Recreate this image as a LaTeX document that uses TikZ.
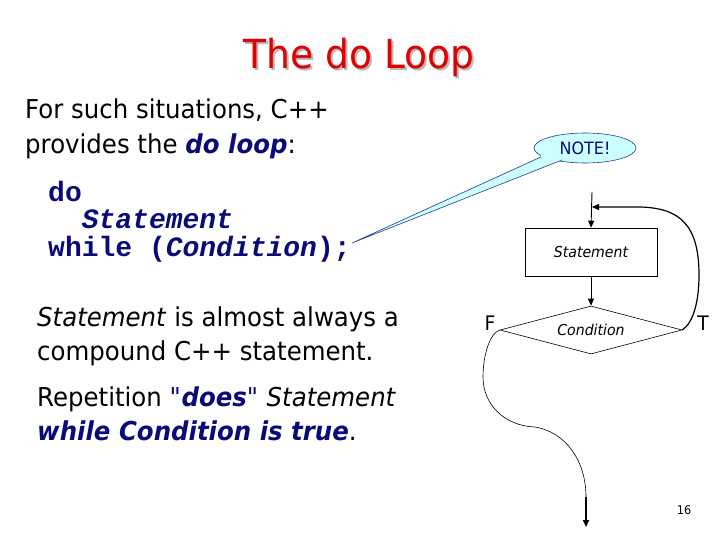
\documentclass[tikz,border=0pt]{standalone}
\usepackage{fontspec}
\setmainfont{DejaVu Sans}[FakeStretch=0.94,ItalicFont={DejaVu Sans Oblique},BoldItalicFont={DejaVu Sans Bold Oblique},BoldFont={DejaVu Sans Bold}]
\newfontfamily\codefont{Liberation Mono}
\usetikzlibrary{arrows.meta,shapes.geometric}
\definecolor{navyc}{RGB}{10,10,120}
\definecolor{titlered}{RGB}{225,0,0}
\definecolor{calloutfill}{RGB}{204,255,255}
\definecolor{calloutline}{RGB}{40,60,140}
\tikzset{
  txt/.style={anchor=base west,inner sep=0pt,font=\fontsize{26}{30}\selectfont},
  code/.style={anchor=base west,inner sep=0pt,text=navyc,font=\codefont\bfseries\fontsize{28}{30}\selectfont},
  flowbox/.style={draw,line width=0.6pt,minimum width=132pt,minimum height=48pt,inner sep=0pt,font=\itshape\fontsize{15}{18}\selectfont},
  flowdia/.style={draw,line width=0.6pt,diamond,aspect=3.8,minimum width=182pt,minimum height=48pt,inner sep=0pt,font=\itshape\fontsize{15}{18}\selectfont},
  flow/.style={line width=0.9pt,-{Triangle[length=7pt,width=6pt]}},
  thin/.style={line width=0.6pt},
}
\begin{document}
\begin{tikzpicture}[x=1pt,y=-1pt]
\useasboundingbox (0,0) rectangle (720,540);
% title with shadow
\node[anchor=base,inner sep=0pt,font=\fontsize{40}{44}\selectfont] (title) at (359,69)
  {\makebox[0pt][l]{\hspace{2pt}\raisebox{-2pt}{\textcolor{black!28}{The do Loop}}}\textcolor{titlered}{The do Loop}};
% text
\node[txt] (l1) at (25,119) {For such situations, C++};
\node[txt] (l2) at (25,154) {provides the \textcolor{navyc}{\textbf{\textit{do loop}}}:};
\node[code] (c1) at (48,202) {do};
\node[code] (c2) at (48,229) {\ \ \textit{Statement}};
\node[code] (c3) at (48,256) {while (\textit{Condition});};
\node[txt] (l3) at (37,326) {\textit{Statement} is almost always a};
\node[txt] (l4) at (37,360) {compound C++ statement.};
\node[txt] (l5) at (37,406) {Repetition \textcolor{navyc}{\textit{\textquotedbl}\textbf{\textit{does}}\textit{\textquotedbl}} \textit{Statement}};
\node[txt] (l6) at (37,440) {\textcolor{navyc}{\textbf{\textit{while Condition is true}}}.};
% callout
\coordinate (tip) at (352,243);
\node[ellipse,draw=calloutline,fill=calloutfill,line width=0.6pt,minimum width=102pt,minimum height=30pt,inner sep=0pt,text=navyc,font=\fontsize{17}{19}\selectfont] (note) at (585,148) {NOTE!};
\fill[calloutfill] (541,156) -- (tip) -- (562,160) -- (562,154) -- (543,151) -- cycle;
\draw[calloutline,line width=0.6pt] (541,157) -- (tip) -- (562,160);
% flowchart
\coordinate (start) at (592,192);
\coordinate (join) at (592,207);
\node[flowbox] (stmt) at (591,252) {Statement};
\node[flowdia] (cond) at (591,330) {Condition};
\node[anchor=base,inner sep=0pt,font=\fontsize{20}{22}\selectfont] (F) at (490,330) {F};
\node[anchor=base,inner sep=0pt,font=\fontsize{20}{22}\selectfont] (T) at (703,330) {T};
\draw[flow] (start) -- (stmt.north);
\draw[flow] (stmt.south) -- (cond.north);
\draw[line width=1.2pt,-{Triangle[length=7pt,width=6pt]}] (cond.east) .. controls (694,322) and (699,300) .. (699,275) .. controls (699,225) and (680,208) .. (640,207) -- (join);
\coordinate (exit) at (586,527);
\coordinate (bend) at (586,497);
\draw[thin] (cond.west) .. controls (490,333) and (483,355) .. (483,377) .. controls (483,405) and (505,426) .. (535,427) .. controls (565,432) and (586,460) .. (586,497);
\draw[line width=1.6pt,-{Triangle[length=7pt,width=6pt]}] (bend) -- (exit);
\node[anchor=base,inner sep=0pt,font=\fontsize{12}{14}\selectfont] (pg) at (684,514) {16};
\end{tikzpicture}
\end{document}
